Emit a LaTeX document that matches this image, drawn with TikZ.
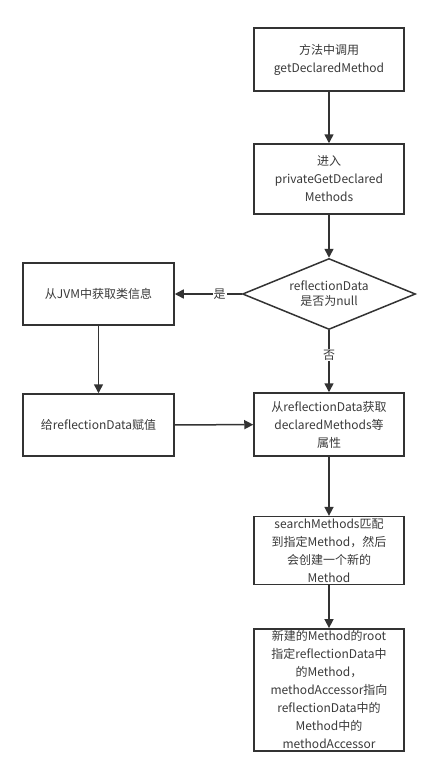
\documentclass[tikz,border=0pt]{standalone}
\usepackage{fontspec}
\setmainfont{Noto Sans CJK SC}
\usepackage{xcolor}
\usetikzlibrary{arrows.meta,shapes.geometric}
\definecolor{linegray}{HTML}{333333}
\definecolor{textgray}{HTML}{3A3A3A}

\begin{document}
\begin{tikzpicture}[x=1pt, y=-1pt,
    box/.style={draw=linegray, line width=1.5pt, rectangle, fill=white, text=textgray,
        minimum width=150pt, align=center, font=\fontsize{12}{18}\selectfont, inner sep=2pt},
    decide/.style={draw=linegray, line width=1.5pt, diamond, aspect=2.44, text=textgray,
        minimum width=173pt, minimum height=71pt, inner sep=0pt, align=center,
        font=\fontsize{12}{15}\selectfont},
    flow/.style={draw=linegray, line width=1.5pt, -{Triangle[width=9pt,length=9pt]}},
    tag/.style={fill=white, text=textgray, inner sep=1pt, font=\fontsize{12}{14}\selectfont}]
                \useasboundingbox (0,0) rectangle (427,771);
                % Main column
                \node[box, minimum height=63pt] (call) at (329,59.5) {方法中调用\\getDeclaredMethod};
                \node[box, minimum height=70pt] (enter) at (329,179) {进入\\privateGetDeclared\\Methods};
                \node[decide] (check) at (329,294) {reflectionData\\是否为null};
                \node[box, minimum height=63pt] (fetch) at (329,424.5) {从reflectionData获取\\declaredMethods等\\属性};
                \node[box, minimum height=63pt] (search) at (329,550.5) {searchMethods匹配\\到指定Method，然后\\会创建一个新的\\Method};
                \node[box, minimum height=110pt] (newmethod) at (329,690) {新建的Method的root\\指定reflectionData中\\的Method，\\methodAccessor指向\\reflectionData中的\\Method中的\\methodAccessor};
                
                % Left column
                \node[box, minimum height=62pt, minimum width=151pt] (jvm) at (98.5,294) {从JVM中获取类信息};
                \node[box, minimum height=62pt, minimum width=151pt] (assign) at (98.5,425) {给reflectionData赋值};
                
                % Connectors
                \draw[flow] (call) -- (enter);
                \draw[flow] (enter) -- (check);
                \draw[flow] (check) -- (jvm) node[tag, pos=0.33] {是};
                \draw[flow] (check) -- (fetch) node[tag, pos=0.4] {否};
                \draw[flow] (jvm) -- (assign);
                \draw[flow] (assign) -- (fetch);
                \draw[flow] (fetch) -- (search);
                \draw[flow] (search) -- (newmethod);
            \end{tikzpicture}
\end{document}
